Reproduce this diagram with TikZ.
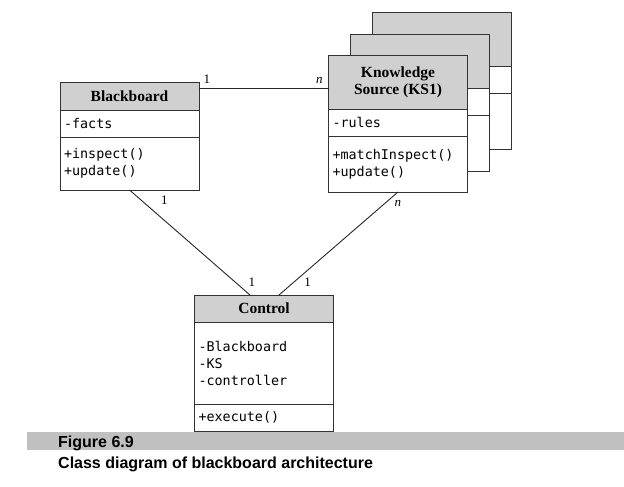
\documentclass[tikz,border=0pt]{standalone}
\usepackage{fontspec}
\setmainfont{Liberation Serif}
\setmonofont{DejaVu Sans Mono}
\newfontfamily\capfont{Liberation Sans}
\usetikzlibrary{positioning}
\definecolor{headgray}{RGB}{208,208,208}
\definecolor{bandgray}{RGB}{192,192,192}

\begin{document}
\begin{tikzpicture}[
  x=1pt, y=-1pt,
  node distance=0pt,
  head/.style={draw=black!80, fill=headgray, align=center, minimum width=139pt, minimum height=27pt, inner sep=0pt, outer sep=0pt, font=\fontsize{15.5}{17}\selectfont\bfseries},
  field/.style={draw=black!80, fill=white, align=left, text width=131pt, inner xsep=4pt, inner ysep=0pt, minimum height=27pt, outer sep=0pt, font=\fontsize{13.4}{17}\selectfont\ttfamily},
  mult/.style={font=\fontsize{13}{13}\selectfont, inner sep=1pt},
  link/.style={draw=black!85, line width=0.9pt}
]
\useasboundingbox (0,0) rectangle (624,487);

% knowledge sources, stacked
\foreach \k/\cx/\cy in {3/441.5/39, 2/420/61} {
  \node[head, minimum height=54pt] (ks\k head) at (\cx,\cy) {};
  \node[field, below=of ks\k head] (ks\k attr) {};
  \node[field, below=of ks\k attr, minimum height=56pt] (ks\k ops) {};
}
\node[head, minimum height=54pt] (kshead) at (398,82) {Knowledge\\Source (KS1)};
\node[field, below=of kshead] (ksattr) {-rules};
\node[field, below=of ksattr, minimum height=56pt] (ksops) {+matchInspect()\\+update()};

% blackboard
\node[head, minimum height=28pt] (bbhead) at (129.5,96) {Blackboard};
\node[field, below=of bbhead] (bbattr) {-facts};
\node[field, below=of bbattr, minimum height=53pt] (bbops) {+inspect()\\+update()};

% control
\node[head] (ctlhead) at (264,308.5) {Control};
\node[field, below=of ctlhead, minimum height=82pt] (ctlattr) {-Blackboard\\-KS\\-controller};
\node[field, below=of ctlattr] (ctlops) {+execute()};

\path ([yshift=8pt]bbhead.east) coordinate (bbks);
\draw[link] (bbks) -- node[mult, above=3pt, pos=0.06] {1} node[mult, above=3pt, pos=0.93] {\textit{n}} (bbks -| kshead.west);
\draw[link] (bbops.south) -- node[mult, pos=0.1, right=18pt] {1} node[mult, pos=0.876, right=12pt] {1} ([xshift=-14pt]ctlhead.north);
\draw[link] (ksops.south) -- node[mult, pos=0.107, right=8pt] {\textit{n}} node[mult, pos=0.874, right=9pt] {1} ([xshift=15pt]ctlhead.north);

% caption
\fill[bandgray] (27,432) rectangle (624,450);
\node[anchor=base west, inner sep=0pt, font=\capfont\bfseries\fontsize{16}{18}\selectfont] (fignum) at (58,447) {Figure 6.9};
\node[anchor=base west, inner sep=0pt, font=\capfont\bfseries\fontsize{16}{18}\selectfont] (figcap) at (58,468) {Class diagram of blackboard architecture};
\end{tikzpicture}
\end{document}
